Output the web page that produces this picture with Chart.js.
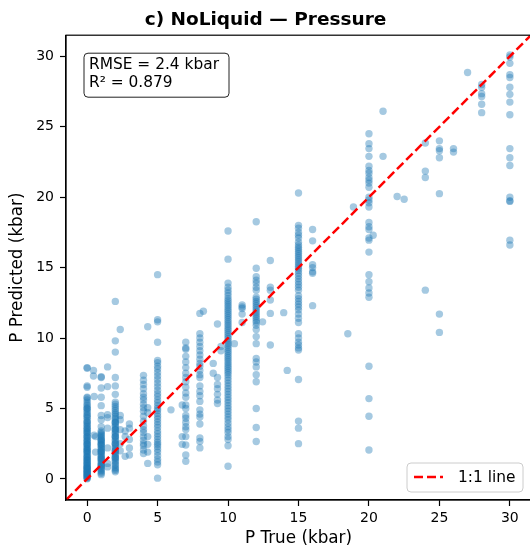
<!DOCTYPE html>
<html>
<head>
<meta charset="utf-8">
<script src="https://cdn.jsdelivr.net/npm/chart.js@4"></script>
<style>
  html, body { margin: 0; padding: 0; overflow: hidden; background: #fff; }
  #chart { display: block; width: 536px; height: 551px; }
</style>
</head>
<body>
<canvas id="chart" width="536" height="551"></canvas>
<script>
// true pressure levels (kbar) and the predictions read at each level
const trueLevels = [0, 0.45, 0.5, 0.6, 1, 1.45, 2, 2.35, 2.7, 3, 4, 4.3, 5, 5.95, 6.75, 7, 8, 8.25, 8.95, 9.25, 9.5,
  10, 10.45, 11, 12, 12.45, 13, 13.95, 14.2, 15, 16, 18.5, 18.9, 20, 20.3, 21, 22, 22.5, 24, 25, 26, 27, 28, 30];

const predicted = [
  [7.9, 7.85, 6.6, 6.5, 5.8, 5.75, 5.6, 5.45, 5.3, 5.2, 5.05, 4.95, 4.8, 4.7, 4.55, 4.4, 4.3, 4.15, 4.05, 3.9, 3.8, 3.7,
   3.55, 3.45, 3.3, 3.2, 3.1, 2.95, 2.85, 2.75, 2.6, 2.5, 2.4, 2.3, 2.15, 2.05, 1.95, 1.85, 1.7, 1.6, 1.5, 1.4, 1.3, 1.15,
   1.05, 0.95, 0.85, 0.75, 0.65, 0.55, 0.45, 0.35, 0.25, 0.15, 0.05, 0.1, 0.3, 0.5, 0.7, 0.9, 1.1, 1.35, 1.55, 1.8, 2.0,
   2.2, 2.45, 2.7, 3.0, 3.35, 3.6, 4.0, 4.5, 5.0, 0.0, 0.2, 0.4, 0.6, 0.8, 1.2],
  [7.7, 7.3],
  [5.85, 3.1],
  [1.9, 3.0],
  [7.25, 7.2, 6.45, 5.8, 5.2, 4.5, 4.2, 3.3, 3.2, 3.1, 3.0, 2.9, 2.8, 2.7, 2.6, 2.5, 2.4, 2.3, 2.2, 2.1, 2.0, 1.9, 1.8,
   1.7, 1.6, 1.5, 1.4, 1.3, 1.2, 1.1, 1.0, 0.9, 0.8, 0.7, 0.6, 0.5, 0.4, 0.3, 2.45, 1.95, 1.45, 0.95, 2.75, 3.4, 3.7],
  [7.95, 6.55, 4.55, 4.35, 3.6, 2.2, 1.1, 0.85],
  [12.6, 9.8, 9.0, 7.2, 6.6, 6.0, 5.45, 5.3, 5.15, 5.0, 4.85, 4.7, 4.6, 4.45, 4.3, 4.2, 4.05, 3.95, 3.8, 3.7, 3.55, 3.45,
   3.3, 3.2, 3.05, 2.95, 2.8, 2.7, 2.55, 2.45, 2.3, 2.2, 2.05, 1.95, 1.8, 1.7, 1.55, 1.45, 1.3, 1.2, 1.05, 0.95, 0.8, 0.7,
   0.6, 0.5, 3.0, 3.5, 2.5, 4.0, 1.5, 2.0],
  [10.6, 4.5, 4.2, 3.5, 2.5, 2.0],
  [3.4, 3.0, 1.6],
  [3.9, 3.6, 2.8, 2.2, 1.7],
  [7.35, 7.0, 6.7, 6.4, 6.05, 5.8, 5.6, 5.3, 5.05, 4.8, 4.45, 4.1, 3.75, 3.5, 3.3, 3.0, 2.75, 2.5, 2.35, 2.05, 1.8],
  [10.8, 5.05, 4.7, 3.0, 2.45, 1.9, 1.1],
  [14.5, 11.3, 11.15, 9.7, 8.4, 8.25, 8.0, 7.8, 7.55, 7.3, 7.05, 6.8, 6.55, 6.3, 6.05, 5.85, 5.6, 5.4, 5.2, 5.0, 4.85,
   4.65, 4.45, 4.25, 4.05, 3.85, 3.65, 3.4, 3.2, 3.0, 2.8, 2.6, 2.45, 2.3, 2.1, 1.9, 1.65, 1.4, 1.2, 1.0, 0.05],
  [4.9],
  [5.25, 3.0, 2.45],
  [9.7, 9.3, 9.2, 8.7, 8.3, 7.9, 7.5, 7.2, 6.9, 6.5, 6.1, 5.8, 5.25, 5.0, 4.5, 4.3, 4.0, 3.7, 3.5, 3.0, 2.4, 1.7, 1.25],
  [11.75, 10.3, 10.0, 9.7, 9.4, 9.1, 8.8, 8.5, 8.2, 8.0, 7.7, 7.4, 7.2, 6.6, 6.2, 5.9, 5.5, 4.9, 4.6, 4.4, 3.9, 2.9,
   2.65, 2.2],
  [11.9],
  [8.2, 7.5],
  [11.0, 7.2, 6.7, 6.4, 6.0, 5.6, 5.35],
  [9.4, 9.1],
  [17.6, 15.6, 13.9, 13.6, 13.4, 13.2, 13.0, 12.8, 12.65, 12.5, 12.35, 12.2, 12.05, 11.9, 11.75, 11.6, 11.45, 11.3,
   11.15, 11.0, 10.85, 10.7, 10.55, 10.4, 10.25, 10.1, 9.95, 9.8, 9.65, 9.5, 9.35, 9.2, 9.05, 8.9, 8.75, 8.6, 8.45, 8.3,
   8.15, 8.0, 7.85, 7.7, 7.55, 7.4, 7.2, 7.0, 6.8, 6.6, 6.4, 6.2, 6.0, 5.8, 5.6, 5.4, 5.2, 5.0, 4.8, 4.6, 4.4, 4.2, 3.95,
   3.7, 3.5, 3.3, 3.0, 2.8, 2.35, 0.9],
  [9.6],
  [12.35, 12.2, 12.1, 11.7, 11.1],
  [18.25, 14.95, 14.35, 14.1, 13.9, 13.6, 13.4, 12.9, 12.75, 12.6, 12.45, 12.3, 12.15, 12.0, 11.85, 11.7, 11.55, 11.4,
   11.25, 11.1, 10.9, 10.6, 10.1, 9.6, 8.55, 8.3, 7.95, 7.4, 6.9, 5.0, 3.65, 2.65],
  [11.15],
  [15.5, 13.6, 13.4, 12.7, 11.75, 9.5],
  [11.8],
  [7.7],
  [20.3, 18.0, 17.8, 17.5, 17.3, 17.1, 16.8, 16.6, 16.45, 16.3, 16.15, 16.0, 15.85, 15.7, 15.55, 15.4, 15.25, 15.1,
   14.95, 14.8, 14.6, 14.4, 14.2, 14.0, 13.8, 13.6, 13.4, 13.0, 12.8, 12.6, 12.4, 12.2, 12.0, 11.7, 11.4, 11.1, 10.3,
   10.0, 9.7, 9.5, 9.3, 9.15, 7.05, 4.1, 3.6, 2.5],
  [17.7, 16.9, 15.2, 15.0, 14.7, 14.6, 12.3],
  [10.3],
  [19.3],
  [24.5, 23.8, 23.45, 22.9, 22.2, 21.9, 21.7, 21.4, 21.2, 21.0, 20.7, 20.0, 19.8, 19.6, 19.3, 18.2, 17.9, 17.7, 17.1,
   16.95, 16.1, 14.5, 14.0, 13.55, 13.2, 12.9, 8.0, 5.7, 4.45, 2.05],
  [17.3],
  [26.1, 22.9],
  [20.05],
  [19.85],
  [23.85, 21.85, 21.4, 13.4],
  [24.0, 23.45, 23.3, 22.8, 20.25, 11.7, 10.4],
  [23.45, 23.2],
  [28.85],
  [28.0, 27.8, 27.35, 27.15, 26.6, 26.0],
  [30.1, 29.95, 29.5, 28.7, 28.5, 27.8, 27.3, 26.75, 25.85, 23.45, 22.8, 22.25, 20.0, 19.75, 19.7, 16.95, 16.6]
];

const tickValues = [0, 5, 10, 15, 20, 25, 30];
const axisMin = -1.5;
const axisMax = 31.5;
const rmse = 2.4;
const r2 = 0.879;

const points = [];
for (let i = 0; i < trueLevels.length; i++) {
  for (let j = 0; j < predicted[i].length; j++) {
    points.push({ x: trueLevels[i], y: predicted[i][j] });
  }
}

const FONT = "'DejaVu Sans', sans-serif";
Chart.defaults.font.family = FONT;
Chart.defaults.color = "#000";

const overlay = {
  id: "overlay",
  afterDraw(chart) {
    const ctx = chart.ctx;
    const a = chart.chartArea;
    ctx.save();

    // frame
    ctx.strokeStyle = "#000";
    ctx.lineWidth = 1.2;
    ctx.strokeRect(a.left, a.top, a.right - a.left, a.bottom - a.top);

    // stats box
    ctx.beginPath();
    ctx.roundRect(a.left + 18, a.top + 18, 145, 44, 4);
    ctx.fillStyle = "rgba(255,255,255,0.85)";
    ctx.fill();
    ctx.strokeStyle = "#222";
    ctx.lineWidth = 1;
    ctx.stroke();
    ctx.fillStyle = "#000";
    ctx.font = "15.4px " + FONT;
    ctx.textBaseline = "middle";
    ctx.textAlign = "left";
    ctx.fillText("RMSE = " + rmse + " kbar", a.left + 23, a.top + 30);
    ctx.fillText("R\u00b2 = " + r2, a.left + 23, a.top + 48);

    // legend
    const lx = a.right - 124, ly = a.bottom - 37;
    ctx.beginPath();
    ctx.roundRect(lx, ly, 116, 29, 4);
    ctx.fillStyle = "rgba(255,255,255,0.8)";
    ctx.fill();
    ctx.strokeStyle = "#cccccc";
    ctx.stroke();
    ctx.beginPath();
    ctx.setLineDash([9, 4]);
    ctx.strokeStyle = "#ff0000";
    ctx.lineWidth = 2.5;
    ctx.moveTo(lx + 7, ly + 14);
    ctx.lineTo(lx + 36, ly + 14);
    ctx.stroke();
    ctx.setLineDash([]);
    ctx.fillStyle = "#000";
    ctx.fillText("1:1 line", lx + 51, ly + 15);

    ctx.restore();
  }
};

new Chart(document.getElementById("chart"), {
  type: "scatter",
  data: {
    datasets: [
      {
        type: "line",
        label: "1:1 line",
        data: [{ x: axisMin, y: axisMin }, { x: axisMax, y: axisMax }],
        borderColor: "#ff0000",
        borderWidth: 2.5,
        borderDash: [9, 4],
        pointRadius: 0,
        fill: false,
        order: 0
      },
      {
        label: "data",
        data: points,
        backgroundColor: "rgba(31,119,180,0.4)",
        borderWidth: 0,
        pointRadius: 3.7,
        order: 1
      }
    ]
  },
  options: {
    responsive: false,
    animation: false,
    events: [],
    layout: { padding: { left: 0, right: 5, top: 0, bottom: 0 } },
    plugins: {
      legend: { display: false },
      tooltip: { enabled: false },
      title: {
        display: true,
        text: "c) NoLiquid \u2014 Pressure",
        font: { size: 18.5, weight: "bold", family: FONT },
        color: "#000",
        padding: { top: 9, bottom: 4 }
      }
    },
    scales: {
      x: {
        type: "linear",
        min: axisMin,
        max: axisMax,
        afterFit: (s) => { s.height = 51; },
        afterBuildTicks: (s) => { s.ticks = tickValues.map((v) => ({ value: v })); },
        ticks: { font: { size: 14 }, padding: 4, maxRotation: 0 },
        grid: { drawOnChartArea: false, tickLength: 6, tickColor: "#000", tickWidth: 1.2 },
        border: { color: "#000", width: 1.2 },
        title: { display: true, text: "P True (kbar)", font: { size: 16.8 }, padding: { top: 0, bottom: 2 } }
      },
      y: {
        type: "linear",
        min: axisMin,
        max: axisMax,
        afterFit: (s) => { s.width = 66; },
        afterBuildTicks: (s) => { s.ticks = tickValues.map((v) => ({ value: v })); },
        ticks: { font: { size: 14 }, padding: 6 },
        grid: { drawOnChartArea: false, tickLength: 6, tickColor: "#000", tickWidth: 1.2 },
        border: { color: "#000", width: 1.2 },
        title: { display: true, text: "P Predicted (kbar)", font: { size: 16.8 }, padding: { top: 8, bottom: 0 } }
      }
    }
  },
  plugins: [overlay]
});
</script>
</body>
</html>
